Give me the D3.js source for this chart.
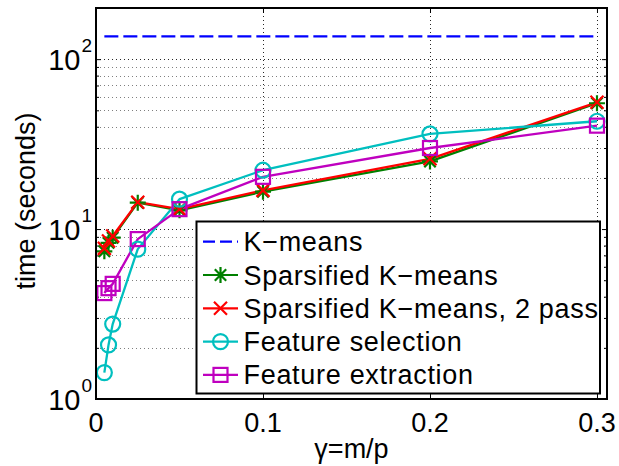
<!DOCTYPE html>
<html>
<head>
<meta charset="utf-8">
<script src="https://cdn.jsdelivr.net/npm/d3@7"></script>
<style>
  html, body { margin: 0; padding: 0; background: #fff; }
  svg { display: block; font-family: "Liberation Sans", Arial, Helvetica, sans-serif; }
</style>
</head>
<body>
<svg id="chart" width="619" height="466"></svg>
<script>
// Sampling ratios gamma = m/p
const gammas = [0.005, 0.0075, 0.01, 0.025, 0.05, 0.1, 0.2, 0.3];

// Running times in seconds
const kmeansTime      = [136, 136, 136, 136, 136, 136, 136, 136];
const sparsifiedTime  = [7.4, 8.3, 8.9, 14.3, 12.9, 16.6, 25.0, 55.0];
const sparsified2Time = [7.7, 8.5, 9.1, 14.4, 13.1, 16.9, 25.9, 55.7];
const selectionTime   = [1.43, 2.08, 2.76, 7.62, 15.0, 22.2, 36.3, 43.1];
const extractionTime  = [4.2, 4.49, 4.76, 8.73, 13.1, 20.3, 30.0, 40.6];

const seriesNames = ["K\u2212means", "Sparsified K\u2212means", "Sparsified K\u2212means, 2 pass",
                     "Feature selection", "Feature extraction"];

const xTicks = [0, 0.1, 0.2, 0.3];
const xTickLabels = ["0", "0.1", "0.2", "0.3"];
const yTicks = [1, 10, 100];
const yTickExps = ["0", "1", "2"];
const xDomain = [0, 0.306];
const yDomain = [1, 200];

const series = [
  { name: seriesNames[0], values: kmeansTime,      color: "#0000ff", marker: "none",   dash: "14,5" },
  { name: seriesNames[1], values: sparsifiedTime,  color: "#008000", marker: "star",   dash: null },
  { name: seriesNames[2], values: sparsified2Time, color: "#ff0000", marker: "cross",  dash: null },
  { name: seriesNames[3], values: selectionTime,   color: "#00bfbf", marker: "circle", dash: null },
  { name: seriesNames[4], values: extractionTime,  color: "#bf00bf", marker: "square", dash: null }
];

const W = 619, H = 466;
const margin = { left: 96, top: 8, right: 12, bottom: 67 };
const iw = W - margin.left - margin.right;
const ih = H - margin.top - margin.bottom;

const svg = d3.select("#chart");
const g = svg.append("g").attr("transform", `translate(${margin.left},${margin.top})`);

const x = d3.scaleLinear().domain(xDomain).range([0, iw]);
const y = d3.scaleLog().domain(yDomain).range([ih, 0]);

// Minor log positions 2..9 within each decade
const minorVals = [];
[1, 10, 100].forEach(dec => {
  for (let k = 2; k <= 9; k++) {
    const v = dec * k;
    if (v <= yDomain[1]) minorVals.push(v);
  }
});

// Grid lines (dotted)
const grid = g.append("g");
grid.selectAll("line.minor").data(minorVals).join("line")
  .attr("x1", 0).attr("x2", iw)
  .attr("y1", d => Math.round(y(d)) + 0.5).attr("y2", d => Math.round(y(d)) + 0.5)
  .attr("stroke", "#000").attr("stroke-opacity", 0.5)
  .attr("stroke-dasharray", "1,3").attr("stroke-width", 1);
grid.selectAll("line.major").data(yTicks.filter(d => d > yDomain[0])).join("line")
  .attr("x1", 0).attr("x2", iw)
  .attr("y1", d => Math.round(y(d)) + 0.5).attr("y2", d => Math.round(y(d)) + 0.5)
  .attr("stroke", "#000").attr("stroke-opacity", 0.85)
  .attr("stroke-dasharray", "1,3").attr("stroke-width", 1);
grid.selectAll("line.xg").data(xTicks.filter(d => d > 0)).join("line")
  .attr("x1", d => Math.round(x(d)) + 0.5).attr("x2", d => Math.round(x(d)) + 0.5)
  .attr("y1", 0).attr("y2", ih)
  .attr("stroke", "#000").attr("stroke-opacity", 0.85)
  .attr("stroke-dasharray", "1,3").attr("stroke-width", 1);

// Axes built with d3 axis generators (inward ticks, labels drawn separately)
const yAxisMajor = d3.axisLeft(y).tickValues(yTicks).tickSize(-5).tickFormat("");
const yAxisMinor = d3.axisLeft(y).tickValues(minorVals).tickSize(-3).tickFormat("");
const yAxisMajorR = d3.axisRight(y).tickValues(yTicks).tickSize(-5).tickFormat("");
const yAxisMinorR = d3.axisRight(y).tickValues(minorVals).tickSize(-3).tickFormat("");
const xAxisB = d3.axisBottom(x).tickValues(xTicks).tickSize(-5).tickFormat("");
const xAxisT = d3.axisTop(x).tickValues(xTicks).tickSize(-5).tickFormat("");

function styleAxis(sel) {
  sel.select(".domain").remove();
  sel.selectAll(".tick line").attr("stroke", "#000").attr("stroke-width", 1);
}
g.append("g").call(yAxisMajor).call(styleAxis);
g.append("g").call(yAxisMinor).call(styleAxis);
g.append("g").attr("transform", `translate(${iw},0)`).call(yAxisMajorR).call(styleAxis);
g.append("g").attr("transform", `translate(${iw},0)`).call(yAxisMinorR).call(styleAxis);
g.append("g").attr("transform", `translate(0,${ih})`).call(xAxisB).call(styleAxis);
g.append("g").call(xAxisT).call(styleAxis);

// Series lines
const line = d3.line().x((d, i) => x(gammas[i])).y(d => y(d));
const plot = g.append("g");
series.forEach(s => {
  plot.append("path")
    .datum(s.values)
    .attr("d", line)
    .attr("fill", "none")
    .attr("stroke", s.color)
    .attr("stroke-width", 2.3)
    .attr("stroke-dasharray", s.dash)
    .attr("stroke-linejoin", "round");
});

// Marker drawing
function drawMarker(sel, type, color, cx, cy) {
  const m = sel.append("g").attr("transform", `translate(${cx},${cy})`)
    .attr("fill", "none").attr("stroke", color).attr("stroke-width", 2.2);
  if (type === "star") {
    const r = 8, d = 5.7;
    m.append("path").attr("d", `M${-r},0H${r}M0,${-r}V${r}M${-d},${-d}L${d},${d}M${-d},${d}L${d},${-d}`);
  } else if (type === "cross") {
    const d = 6.5;
    m.append("path").attr("d", `M${-d},${-d}L${d},${d}M${-d},${d}L${d},${-d}`);
  } else if (type === "circle") {
    m.append("circle").attr("r", 7.5);
  } else if (type === "square") {
    m.append("rect").attr("x", -7).attr("y", -7).attr("width", 14).attr("height", 14);
  }
}
series.forEach(s => {
  if (s.marker === "none") return;
  s.values.forEach((v, i) => drawMarker(plot, s.marker, s.color, x(gammas[i]), y(v)));
});

// Frame
g.append("rect").attr("x", 0).attr("y", 0).attr("width", iw).attr("height", ih)
  .attr("fill", "none").attr("stroke", "#000").attr("stroke-width", 2);

// Tick labels
const fs = 27;
g.append("g").selectAll("text").data(xTicks).join("text")
  .attr("x", d => x(d)).attr("y", ih + 33)
  .attr("text-anchor", "middle").attr("font-size", fs)
  .text((d, i) => xTickLabels[i]);

const yl = g.append("g");
yTicks.forEach((t, i) => {
  yl.append("text").attr("x", -15.5).attr("y", y(t) + 11)
    .attr("text-anchor", "end").attr("font-size", 29).text("10");
  yl.append("text").attr("x", -14.5).attr("y", y(t) - 7)
    .attr("text-anchor", "start").attr("font-size", 19).text(yTickExps[i]);
});

// Axis titles
svg.append("text")
  .attr("transform", `translate(35,201) rotate(-90)`)
  .attr("text-anchor", "middle").attr("font-size", fs)
  .text("time (seconds)");
svg.append("text")
  .attr("x", margin.left + iw / 2).attr("y", 458)
  .attr("text-anchor", "middle").attr("font-size", fs)
  .text("\u03b3=m/p");

// Legend
const lg = svg.append("g").attr("transform", "translate(196.5,221.5)");
lg.append("rect").attr("width", 403.5).attr("height", 172)
  .attr("fill", "#fff").attr("stroke", "#000").attr("stroke-width", 2);
series.forEach((s, i) => {
  const cy = 20.2 + i * 33.3;
  lg.append("line").attr("x1", 6.5).attr("x2", 41.5).attr("y1", cy).attr("y2", cy)
    .attr("stroke", s.color).attr("stroke-width", 2.2).attr("stroke-dasharray", s.dash ? "12,5" : null);
  if (s.marker !== "none") drawMarker(lg, s.marker, s.color, 24, cy);
  lg.append("text").attr("x", 47).attr("y", cy + 9.5)
    .attr("font-size", fs).attr("letter-spacing", 0.7).text(s.name);
});
</script>
</body>
</html>
